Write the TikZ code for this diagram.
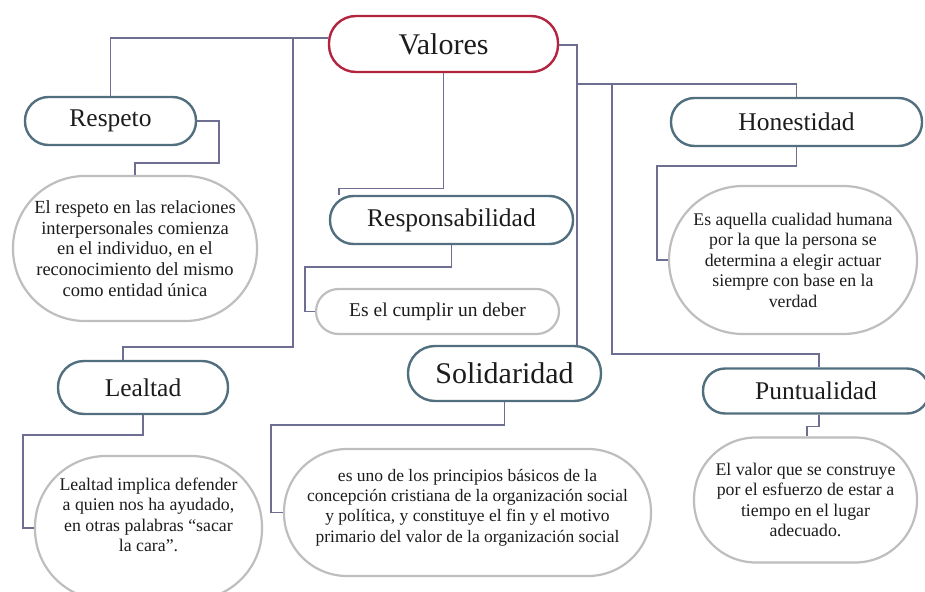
\documentclass[tikz,border=0pt]{standalone}
\usepackage{fontspec}
\setmainfont{Liberation Serif}
\usetikzlibrary{calc}
\definecolor{linkc}{HTML}{6E6E92}
\definecolor{boxc}{HTML}{516F7F}
\definecolor{redc}{HTML}{B3243F}
\definecolor{ellc}{HTML}{BEBEBE}
\definecolor{txtc}{HTML}{1C1C1C}
\begin{document}
\begin{tikzpicture}[x=1pt,y=-1pt,
  pill/.style={draw=boxc, line width=2.4pt, fill=white, text=txtc, inner sep=0pt,
    font=\fontsize{25.5}{28}\selectfont},
  mainpill/.style={pill, draw=redc, font=\fontsize{30}{33}\selectfont},
  bubble/.style={draw=ellc, line width=2.2pt, fill=white, text=txtc, inner sep=0pt,
    align=center, font=\fontsize{17.8}{20.5}\selectfont},
  link/.style={draw=linkc, line width=1.2pt}]
\useasboundingbox (0,0) rectangle (925,591);

% main node
\node[mainpill, rounded corners=27pt, minimum width=229pt, minimum height=56pt] (val) at (443.5,44) {Valores};

% category nodes
\node[pill, rounded corners=23.5pt, minimum width=171pt, minimum height=48pt] (respeto) at (110.5,121) {Respeto};
\node[pill, rounded corners=23.5pt, minimum width=243pt, minimum height=48pt] (respon) at (451.5,220) {Responsabilidad};
\node[pill, rounded corners=23.5pt, minimum width=251pt, minimum height=48pt] (hon) at (796.5,122) {Honestidad};
\node[pill, rounded corners=26pt, minimum width=170pt, minimum height=53pt] (lealtad) at (143,387.5) {Lealtad};
\node[pill, rounded corners=27pt, minimum width=193pt, minimum height=55pt, font=\fontsize{30}{33}\selectfont] (solid) at (504.5,373.5) {Solidaridad};
\node[pill, rounded corners=22pt, minimum width=226pt, minimum height=45pt] (punt) at (816,391) {Puntualidad};

% description bubbles
\node[bubble, rounded corners=72pt, minimum width=244pt, minimum height=145pt,
  font=\fontsize{18.5}{20.8}\selectfont] (respE) at (135,248.5)
  {El respeto en las relaciones\\interpersonales comienza\\en el individuo, en el\\reconocimiento del mismo\\como entidad única};
\node[bubble, rounded corners=22.5pt, minimum width=243pt, minimum height=45pt,
  font=\fontsize{19.5}{22}\selectfont] (deber) at (437.5,311.5) {Es el cumplir un deber};
\node[bubble, rounded corners=74pt, minimum width=248pt, minimum height=148pt] (honE) at (793,260)
  {Es aquella cualidad humana\\por la que la persona se\\determina a elegir actuar\\siempre con base en la\\verdad};
\node[bubble, rounded corners=71pt, minimum width=227pt, minimum height=144pt] (lealE) at (148.5,528) {};
\node[text=txtc, align=center, font=\fontsize{17.8}{20.5}\selectfont] (lealT) at ([yshift=13pt]lealE.center)
  {Lealtad implica defender\\a quien nos ha ayudado,\\en otras palabras “sacar\\la cara”.};
\node[bubble, rounded corners=63pt, minimum width=367pt, minimum height=127pt] (solE) at (467.5,512.5) {};
\node[text=txtc, align=center, font=\fontsize{17.5}{20.2}\selectfont] (solT) at ([yshift=5pt]solE.center)
  {es uno de los principios básicos de la\\concepción cristiana de la organización social\\y política, y constituye el fin y el motivo\\primario del valor de la organización social};
\node[bubble, rounded corners=62pt, minimum width=223pt, minimum height=125pt] (puntE) at (805.5,500)
  {El valor que se construye\\por el esfuerzo de estar a\\tiempo en el lugar\\adecuado.};

% junctions
\coordinate (jA) at (293,38);
\coordinate (jB) at (293,347);
\coordinate (jC) at (577,84);
\coordinate (jD) at (612,84);
\coordinate (jE) at (612,354);
\coordinate (c4) at (219,163);
\coordinate (c5) at (305,267);
\coordinate (c9) at (657,166);
\coordinate (c10) at (23,435);
\coordinate (c11) at (271,425);

% connectors
\draw[link] ([yshift=6pt]val.west) -| (respeto.north);
\draw[link] (jA) -- (jB) -| ([xshift=-20pt]lealtad.north);
\draw[link] (val.south) -- ++(0,115) -| ([xshift=-112.5pt]respon.north);
\draw[link] ([yshift=-1pt]val.east) -| ([xshift=72.5pt]solid.north);
\draw[link] (jC) -| (hon.north);
\draw[link] (jD) -- (jE) -| ([xshift=3pt]punt.north);
\draw[link] (respeto.east) -| (c4) -| (respE.north);
\draw[link] (respon.south) |- (c5) |- (deber.west);
\draw[link] (hon.south) |- (c9) |- (honE.west);
\draw[link] (lealtad.south) |- (c10) |- (lealE.west);
\draw[link] (solid.south) |- (c11) |- (solE.west);
\draw[link] ([xshift=3pt]punt.south) -- ++(0,12) -| ([xshift=1.5pt]puntE.north);
\end{tikzpicture}
\end{document}
